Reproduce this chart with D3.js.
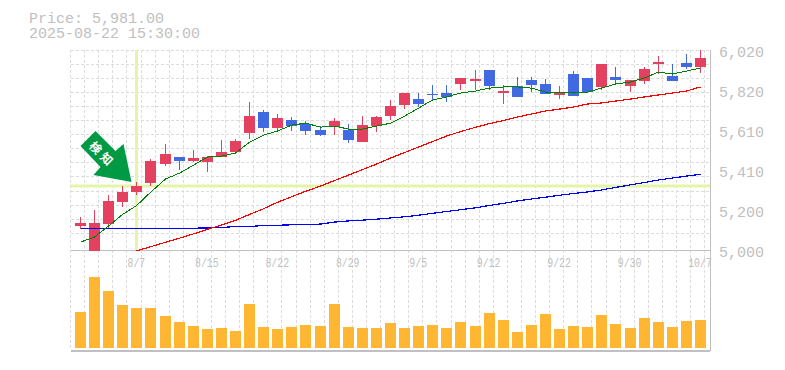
<!DOCTYPE html>
<html>
<head>
<meta charset="utf-8">
<script src="https://cdn.jsdelivr.net/npm/d3@7"></script>
<style>
  body { margin: 0; background: #fff; }
  svg { display: block; }
  text { font-family: "Liberation Mono", monospace; fill: #c0c0c0; }
</style>
</head>
<body>
<div id="chart"></div>
<script>
const dates = ["8/1","8/4","8/5","8/6","8/7","8/8","8/12","8/13","8/14","8/15","8/18","8/19","8/20","8/21","8/22",
  "8/25","8/26","8/27","8/28","8/29","9/1","9/2","9/3","9/4","9/5","9/8","9/9","9/10","9/11","9/12",
  "9/16","9/17","9/18","9/19","9/22","9/24","9/25","9/26","9/29","9/30","10/1","10/2","10/3","10/6","10/7"];
const dateTicks = ["8/7","8/15","8/22","8/29","9/5","9/12","9/22","9/30","10/7"];
const priceTicks = ["5,000","5,200","5,410","5,610","5,820","6,020"];

const opens = [5125,4995,5135,5248,5299,5344,5441,5477,5457,5451,5477,5502,5599,5707,5625,
  5666,5645,5615,5630,5615,5553,5635,5686,5742,5773,5799,5804,5850,5865,5921,
  5804,5840,5870,5850,5794,5901,5881,5835,5886,5840,5865,5952,5891,5957,5937];
const highs = [5171,5207,5283,5329,5349,5467,5543,5477,5513,5482,5564,5569,5758,5717,5697,
  5681,5661,5635,5676,5645,5686,5686,5768,5804,5804,5845,5845,5881,5921,5921,
  5845,5886,5886,5875,5840,5916,5881,5952,5937,5870,5937,5993,5952,6003,6024];
const lows = [5110,4990,5115,5222,5283,5329,5431,5411,5451,5400,5477,5502,5569,5604,5615,
  5610,5589,5584,5589,5548,5553,5604,5666,5722,5732,5768,5758,5819,5819,5819,
  5748,5784,5809,5799,5773,5789,5804,5819,5845,5809,5850,5901,5865,5926,5906];
const closes = [5140,5140,5253,5299,5329,5457,5492,5457,5472,5477,5502,5558,5686,5625,5676,
  5635,5610,5589,5661,5564,5640,5681,5737,5804,5748,5799,5784,5881,5875,5840,
  5814,5784,5845,5799,5809,5789,5809,5952,5870,5870,5926,5962,5865,5937,5981];

const maShort = [5043,5069,5125,5184,5229,5297,5365,5395,5436,5477,5482,5497,5553,5589,5610,
  5640,5650,5630,5635,5620,5620,5635,5650,5686,5727,5768,5784,5804,5814,5829,
  5835,5835,5829,5809,5809,5804,5809,5829,5850,5860,5881,5911,5901,5916,5932];
const maMid = [null,null,null,null,4998,5019,5042,5063,5085,5108,5130,5154,5184,5213,5246,
  5274,5302,5329,5357,5385,5413,5441,5472,5500,5528,5556,5584,5607,5629,5648,
  5663,5681,5697,5712,5722,5732,5748,5753,5763,5773,5784,5794,5804,5814,5835];
const maLong = [5113,5113,5113,5113,5113,5113,5113,5113,5114,5115,5118,5122,5122,5128,5129,
  5131,5133,5135,5145,5151,5155,5160,5166,5172,5180,5190,5199,5208,5218,5230,
  5241,5253,5263,5272,5282,5291,5299,5309,5322,5335,5347,5360,5370,5380,5389];

const volumes = [360,710,570,430,400,400,320,260,220,190,200,170,440,210,190,
  210,230,220,440,210,200,200,250,200,220,230,200,260,220,350,
  280,160,230,340,190,220,210,330,240,200,300,260,210,270,280];

const signalDate = "8/7";
const signalPrice = 5329;

const width = 785, height = 370;
const left = 70.5, right = 710;
const upColor = "#e4405f", downColor = "#4169e1";

const svg = d3.select("#chart").append("svg")
    .attr("width", width).attr("height", height);

const x = d3.scalePoint().domain(dates).range([80.5, 700.5]);
const y = d3.scaleLinear().domain([5000, 6020]).range([250.5, 50.7]);
const yVol = d3.scaleLinear().domain([0, 800]).range([348, 268]);
const px = d => Math.floor(x(d)) + 0.5;

// Grid
const grid = svg.append("g").attr("stroke", "#dcdcdc").attr("stroke-width", 1)
    .attr("stroke-dasharray", "3 2").attr("shape-rendering", "crispEdges");
grid.selectAll(".row").data(d3.range(14)).join("line").attr("class", "row")
    .attr("x1", left).attr("x2", right)
    .attr("y1", k => Math.floor(50 + 14.1 * k) + 0.5)
    .attr("y2", k => Math.floor(50 + 14.1 * k) + 0.5);
grid.selectAll(".col").data(dates).join("line").attr("class", "col")
    .attr("x1", d => Math.floor(x(d) + 4.2) + 0.5).attr("x2", d => Math.floor(x(d) + 4.2) + 0.5)
    .attr("y1", 50).attr("y2", 350);
grid.append("line").attr("x1", left).attr("x2", left).attr("y1", 50).attr("y2", 350);

// Crosshair on the signal candle
const crosshair = svg.append("g").attr("stroke", "#e4f5a8").attr("stroke-width", 3);
crosshair.append("line").attr("x1", left).attr("x2", right)
    .attr("y1", y(signalPrice)).attr("y2", y(signalPrice));
crosshair.append("line").attr("x1", px(signalDate)).attr("x2", px(signalDate))
    .attr("y1", 50).attr("y2", 250);

// Panel frame
const frame = svg.append("g").attr("stroke", "#c0c0c0").attr("shape-rendering", "crispEdges");
frame.append("line").attr("x1", left).attr("x2", right).attr("y1", 250.5).attr("y2", 250.5);
frame.append("line").attr("x1", left).attr("x2", right).attr("y1", 350.5).attr("y2", 350.5).attr("stroke-width", 2);
frame.append("line").attr("x1", right + 0.5).attr("x2", right + 0.5).attr("y1", 50).attr("y2", 351);

// Candles
svg.append("clipPath").attr("id", "price-clip").append("rect")
    .attr("x", left).attr("y", 45).attr("width", right - left).attr("height", 206);
const candles = svg.append("g").attr("clip-path", "url(#price-clip)").attr("shape-rendering", "crispEdges");
dates.forEach((d, i) => {
    const color = closes[i] > opens[i] ? upColor : downColor;
    candles.append("line").attr("x1", px(d)).attr("x2", px(d))
        .attr("y1", y(highs[i])).attr("y2", y(lows[i]))
        .attr("stroke", color).attr("stroke-width", 1);
    const top = y(Math.max(opens[i], closes[i]));
    const bottom = y(Math.min(opens[i], closes[i]));
    candles.append("rect").attr("x", px(d) - 5.5).attr("width", 11)
        .attr("y", top).attr("height", Math.max(1, bottom - top))
        .attr("fill", color);
});

// Moving averages
const line = d3.line().defined(d => d[1] !== null).x(d => px(d[0])).y(d => y(d[1]));
[[maLong, "#0000ff", 1.2], [maMid, "#ff0000", 1.2], [maShort, "#008000", 1]].forEach(([values, color, w]) => {
    svg.append("path").datum(dates.map((d, i) => [d, values[i]]))
        .attr("d", line).attr("fill", "none")
        .attr("stroke", color).attr("stroke-width", w)
        .attr("shape-rendering", "crispEdges");
});

// Volume
svg.append("g").attr("shape-rendering", "crispEdges").selectAll("rect").data(dates).join("rect")
    .attr("x", d => px(d) - 5.5).attr("width", 11)
    .attr("y", (d, i) => yVol(volumes[i]))
    .attr("height", (d, i) => yVol(0) - yVol(volumes[i]))
    .attr("fill", "#ffb733");

// Signal arrow, drawn around its tip
const arrow = svg.append("g")
    .attr("transform", `translate(${px(signalDate) - 5},${y(signalPrice) - 4})`);
arrow.append("path")
    .attr("d", "M0,0 L-8,-38 L-16,-31 L-36,-51 L-51,-36 L-31,-15 L-38,-7 Z")
    .attr("fill", "#009944");
arrow.selectAll("text").data(["検", "知"]).join("text")
    .attr("transform", (d, i) => `translate(${-35 + i * 11},${-35 + i * 11}) rotate(45)`)
    .attr("text-anchor", "middle").attr("dominant-baseline", "central")
    .style("font-family", '"Noto Sans CJK JP"').style("font-size", "12px").style("font-weight", "700")
    .style("fill", "#fff")
    .text(d => d);

// Axis labels
const yLabels = d3.scalePoint().domain(priceTicks).range([253, 53]);
svg.append("g").selectAll("text").data(priceTicks).join("text")
    .attr("x", 719).attr("y", d => yLabels(d)).attr("dominant-baseline", "central")
    .attr("textLength", d => d.length * 9).attr("lengthAdjust", "spacingAndGlyphs")
    .style("font-size", "14px").text(d => d);

svg.append("g").selectAll("text").data(dateTicks).join("text")
    .attr("x", d => x(d) - 0.5).attr("y", 263).attr("text-anchor", "middle").attr("dominant-baseline", "central")
    .attr("textLength", d => d.length * 5.9).attr("lengthAdjust", "spacingAndGlyphs")
    .style("font-size", "13px").text(d => d);

// Header
svg.selectAll(".head").data(["Price: 5,981.00", "2025-08-22 15:30:00"]).join("text").attr("class", "head")
    .attr("x", 29).attr("y", (d, i) => 18.5 + i * 15).attr("dominant-baseline", "central")
    .attr("textLength", d => d.length * 9).attr("lengthAdjust", "spacingAndGlyphs")
    .style("font-size", "14px").text(d => d);
</script>
</body>
</html>
